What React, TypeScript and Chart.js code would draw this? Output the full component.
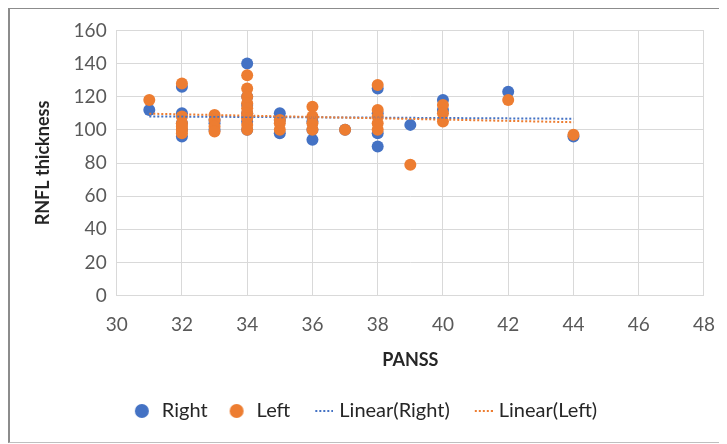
import React, { useEffect, useRef } from "react";
import { Chart, registerables } from "chart.js";

Chart.register(...registerables);

const rightX = [31, 32, 32, 32, 32, 32, 33, 33, 33, 34, 34, 34, 34, 34, 34, 35, 35, 35, 36, 36, 36, 37, 38, 38, 38, 38, 39, 40, 40, 42, 44];
const rightY = [112, 126, 110, 104, 100, 96, 104, 100, 106, 140, 120, 115, 110, 105, 100, 110, 106, 98, 94, 100, 105, 100, 125, 90, 110, 98, 103, 118, 112, 123, 96];
const leftX = [31, 32, 32, 32, 32, 32, 32, 33, 33, 33, 33, 34, 34, 34, 34, 34, 34, 34, 34, 34, 35, 35, 35, 36, 36, 36, 36, 37, 38, 38, 38, 38, 38, 39, 40, 40, 40, 42, 44];
const leftY = [118, 128, 108, 104, 100, 98, 102, 109, 106, 102, 99, 133, 125, 120, 116, 113, 110, 107, 103, 100, 104, 100, 106, 114, 108, 104, 100, 100, 127, 112, 108, 104, 100, 79, 115, 110, 105, 118, 97];
const xTicksMin = 30;
const xTicksMax = 48;
const yTicksMin = 0;
const yTicksMax = 160;

const BLUE = "#4472C4";
const ORANGE = "#ED7D31";
const FONT = "Lato, 'Open Sans', sans-serif";

function fit(xs: number[], ys: number[]) {
  const n = xs.length;
  const mx = xs.reduce((a, b) => a + b, 0) / n;
  const my = ys.reduce((a, b) => a + b, 0) / n;
  let sxy = 0, sxx = 0;
  for (let i = 0; i < n; i++) {
    sxy += (xs[i] - mx) * (ys[i] - my);
    sxx += (xs[i] - mx) * (xs[i] - mx);
  }
  const b = sxy / sxx;
  const a = my - b * mx;
  const x0 = Math.min(...xs), x1 = Math.max(...xs);
  return [{ x: x0, y: a + b * x0 }, { x: x1, y: a + b * x1 }];
}

function dotIcon(color: string) {
  const c = document.createElement("canvas");
  c.width = 16; c.height = 16;
  const g = c.getContext("2d")!;
  g.fillStyle = color;
  g.beginPath(); g.arc(8, 8, 7, 0, Math.PI * 2); g.fill();
  return c;
}
function dashIcon(color: string) {
  const c = document.createElement("canvas");
  c.width = 28; c.height = 16;
  const g = c.getContext("2d")!;
  g.fillStyle = color;
  for (let i = 0; i < 5; i++) g.fillRect(10 + i * 4, 7, 2, 2);
  return c;
}

const shiftLegend = {
  id: "shiftLegend",
  afterLayout(chart: any) {
    const lg = chart.legend;
    if (lg) { lg.left -= 18; lg.right -= 18; }
  },
};

export default function App() {
  const ref = useRef<HTMLCanvasElement>(null);
  useEffect(() => {
    document.body.style.overflow = "hidden";
    const pts = (xs: number[], ys: number[]) => xs.map((x, i) => ({ x, y: ys[i] }));
    const icons = [dotIcon(BLUE), dotIcon(ORANGE), dashIcon(BLUE), dashIcon(ORANGE)];
    const chart = new Chart(ref.current!, {
      type: "scatter",
      data: {
        datasets: [
          { label: "Right", data: pts(rightX, rightY), backgroundColor: BLUE, borderColor: BLUE, pointRadius: 6, borderWidth: 0, order: 3 },
          { label: "Left", data: pts(leftX, leftY), backgroundColor: ORANGE, borderColor: ORANGE, pointRadius: 6, borderWidth: 0, order: 2 },
          { type: "line", label: "Linear(Right)", data: fit(rightX, rightY), borderColor: BLUE, borderWidth: 2, borderDash: [2, 2], pointRadius: 0, showLine: true, fill: false, order: 1 } as any,
          { type: "line", label: "Linear(Left)", data: fit(leftX, leftY), borderColor: ORANGE, borderWidth: 2, borderDash: [2, 2], pointRadius: 0, showLine: true, fill: false, order: 0 } as any,
        ],
      },
      options: {
        animation: false,
        responsive: false,
        layout: { padding: { left: 22, right: 0, top: 8, bottom: 11 } },
        plugins: {
          tooltip: { enabled: false },
          legend: {
            position: "bottom",
            labels: {
              usePointStyle: true,
              color: "#262626",
              font: { family: FONT, size: 20 },
              padding: 19,
              generateLabels: (ch: any) =>
                ch.data.datasets.map((d: any, i: number) => ({
                  text: d.label,
                  pointStyle: icons[i],
                  fillStyle: d.borderColor,
                  strokeStyle: d.borderColor,
                  lineWidth: 0,
                  hidden: false,
                  datasetIndex: i,
                  fontColor: "#262626",
                })),
            },
          },
        },
        scales: {
          x: {
            type: "linear",
            min: xTicksMin,
            max: xTicksMax,
            ticks: { stepSize: 2, color: "#595959", font: { family: FONT, size: 19 }, padding: 18 },
            grid: { color: "#d9d9d9", lineWidth: 1, drawTicks: false },
            border: { color: "#d9d9d9" },
            title: { display: true, text: "PANSS", color: "#262626", font: { family: FONT, size: 18, weight: "bold" }, padding: { top: -5, bottom: 11 } },
          },
          y: {
            min: yTicksMin,
            max: yTicksMax,
            ticks: { stepSize: 20, color: "#595959", font: { family: FONT, size: 19 }, padding: 10 },
            grid: { color: "#d9d9d9", lineWidth: 1, drawTicks: false },
            border: { color: "#d9d9d9" },
            title: { display: true, text: "RNFL thickness", color: "#262626", font: { family: FONT, size: 18, weight: "bold" }, padding: { top: 0, bottom: 10 } },
          },
        },
      },
      plugins: [shiftLegend],
    });
    return () => chart.destroy();
  }, []);
  return (
    <div style={{ width: 725, height: 433, marginTop: -1, borderLeft: "2px solid #8c8c8c", borderTop: "2px solid #8c8c8c", borderBottom: "1px solid #bfbfbf", background: "#fff" }}>
      <canvas ref={ref} width={723} height={433} style={{ display: "block" }} />
    </div>
  );
}
